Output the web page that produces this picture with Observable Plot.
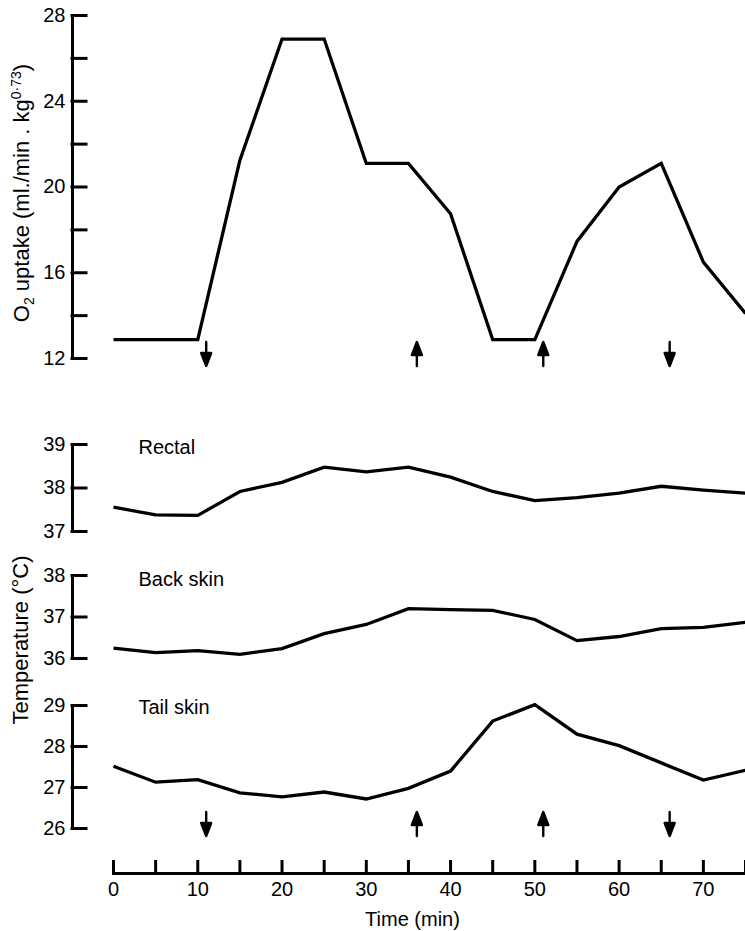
<!DOCTYPE html>
<html><head><meta charset="utf-8">
<script src="https://cdn.jsdelivr.net/npm/d3@7"></script>
<script src="https://cdn.jsdelivr.net/npm/@observablehq/plot@0.6"></script>
<style>
html,body{margin:0;padding:0;background:#fff;}
#chart{position:relative;width:745px;height:931px;overflow:hidden;background:#fff;}
#chart svg{position:absolute;left:0;top:0;}
</style></head><body><div id="chart"></div>
<script>
// ---- data ----
const times = [0,5,10,15,20,25,30,35,40,45,50,55,60,65,70,75];
const o2Uptake = [12.88,12.88,12.88,21.25,26.9,26.9,21.1,21.1,18.75,12.88,12.88,17.46,20.0,21.1,16.5,14.1];
const rectal   = [37.56,37.38,37.37,37.92,38.13,38.48,38.37,38.48,38.25,37.92,37.71,37.78,37.88,38.04,37.95,37.88];
const backSkin = [36.25,36.14,36.19,36.10,36.24,36.60,36.82,37.20,37.18,37.16,36.94,36.43,36.53,36.72,36.75,36.87];
const tailSkin = [27.52,27.13,27.19,26.87,26.77,26.89,26.72,26.98,27.40,28.62,29.02,28.30,28.02,27.60,27.18,27.42];
const arrowTimes = [11,36,51,66];
const arrowDirs  = ["down","up","up","down"];
const o2Ticks   = [12,14,16,18,20,22,24,26,28];
const rectalTicks = [37,38,39];
const backTicks   = [36,37,38];
const tailTicks   = [26,27,28,29];
const timeTicks = [0,5,10,15,20,25,30,35,40,45,50,55,60,65,70,75];
const panelNames = ["Rectal","Back skin","Tail skin"];
const o2Label = "O2 uptake (ml./min . kg0\u00b773)";
const tempLabel = "Temperature (\u00b0C)";
const timeLabel = "Time (min)";

// ---- layout ----
const W = 745, H = 931;
const FONT = "'Liberation Sans', Arial, Helvetica, sans-serif";
const ink = "#000";
const FS = 20, LFS = 22;

const series = vals => times.map((t, i) => ({t, v: vals[i]}));
const arrows = arrowTimes.map((t, i) => ({t, r: arrowDirs[i] === "down" ? 180 : 0}));
const arrowShape = {
  draw(ctx, l) {
    const h = 13, w = 5;
    ctx.moveTo(0, 0); ctx.lineTo(0, -l + h);
    ctx.moveTo(0, -l); ctx.lineTo(-w, -l + h); ctx.lineTo(w, -l + h); ctx.closePath();
  }
};

function panel({domain, ticks, fmt, top, bottom, vals, extra = []}) {
  return Plot.plot({
    width: W, height: H,
    marginLeft: 72, marginRight: 0, marginTop: top, marginBottom: H - bottom,
    style: {fontFamily: FONT, fontSize: FS + "px", background: "transparent", color: ink, overflow: "visible"},
    x: {domain: [0, 75], insetLeft: 41, axis: null},
    y: {domain},
    marks: [
      Plot.frame({anchor: "left", strokeWidth: 3, stroke: ink}),
      Plot.axisY({ticks, tickFormat: fmt, tickSize: -14, tickPadding: 21, strokeWidth: 3, strokeLinecap: "square", fontSize: FS, label: null}),
      Plot.line(series(vals), {x: "t", y: "v", stroke: ink, strokeWidth: 3.3, strokeLinejoin: "miter", strokeMiterlimit: 4, strokeLinecap: "butt"}),
      ...extra
    ]
  });
}

const arrowMark = () => Plot.vector(arrows, {
  x: "t", frameAnchor: "bottom", rotate: "r", length: 24, anchor: "middle", dy: -4.5,
  shape: arrowShape, stroke: ink, fill: ink, strokeWidth: 2.4, strokeLinejoin: "round"
});
const nameMark = (name, dy) => Plot.text([name], {
  text: d => d, frameAnchor: "top-left", textAnchor: "start", lineAnchor: "bottom", dx: 66, dy, fontSize: FS, fill: ink
});

const chart = document.getElementById("chart");

const p1 = panel({
  domain: [12, 28], ticks: o2Ticks, fmt: d => (d % 4 === 0 ? String(d) : ""),
  top: 15, bottom: 358, vals: o2Uptake,
  extra: [
    arrowMark(),
    Plot.text([o2Label], {text: d => d, frameAnchor: "left", textAnchor: "middle", lineAnchor: "middle", rotate: -90, dx: -51, dy: 6, fontSize: LFS, fill: ink})
  ]
});
// subscript / superscript in the O2 axis title
p1.querySelectorAll("text").forEach(el => {
  if (el.textContent !== o2Label) return;
  el.textContent = "";
  const ns = "http://www.w3.org/2000/svg";
  const part = (s, size, dy) => {
    const t = document.createElementNS(ns, "tspan");
    t.textContent = s;
    t.setAttribute("font-size", size);
    if (dy) t.setAttribute("dy", dy);
    el.appendChild(t);
  };
  part("O", LFS, 0);
  part("2", 14, 5);
  part(" uptake (ml./min . kg", LFS, -5);
  part("0\u00b773", 14, -8);
  part(")", LFS, 8);
});
chart.append(p1);

chart.append(panel({
  domain: [37, 39], ticks: rectalTicks, fmt: d => String(d),
  top: 444, bottom: 531, vals: rectal,
  extra: [nameMark(panelNames[0], 9)]
}));

chart.append(panel({
  domain: [36, 38], ticks: backTicks, fmt: d => String(d),
  top: 575, bottom: 658, vals: backSkin,
  extra: [
    nameMark(panelNames[1], 10),
    Plot.text([tempLabel], {text: d => d, frameAnchor: "left", textAnchor: "middle", lineAnchor: "middle", rotate: -90, dx: -52, dy: 23, fontSize: LFS, fill: ink})
  ]
}));

chart.append(panel({
  domain: [26, 29], ticks: tailTicks, fmt: d => String(d),
  top: 705, bottom: 828, vals: tailSkin,
  extra: [nameMark(panelNames[2], 8), arrowMark()]
}));

chart.append(Plot.plot({
  width: W, height: H,
  marginLeft: 113, marginRight: 0, marginTop: 871, marginBottom: H - 873,
  style: {fontFamily: FONT, fontSize: FS + "px", background: "transparent", color: ink, overflow: "visible"},
  x: {domain: [0, 75]},
  marks: [
    Plot.frame({anchor: "bottom", strokeWidth: 3, stroke: ink}),
    Plot.axisX({ticks: timeTicks, tickFormat: d => (d % 10 === 0 && d < 75 ? String(d) : ""), tickSize: -13, tickPadding: 21, strokeWidth: 3, fontSize: FS, label: null}),
    Plot.text([timeLabel], {text: d => d, frameAnchor: "bottom", textAnchor: "middle", lineAnchor: "middle", dx: -17, dy: 46, fontSize: FS, fill: ink})
  ]
}));
</script></body></html>
